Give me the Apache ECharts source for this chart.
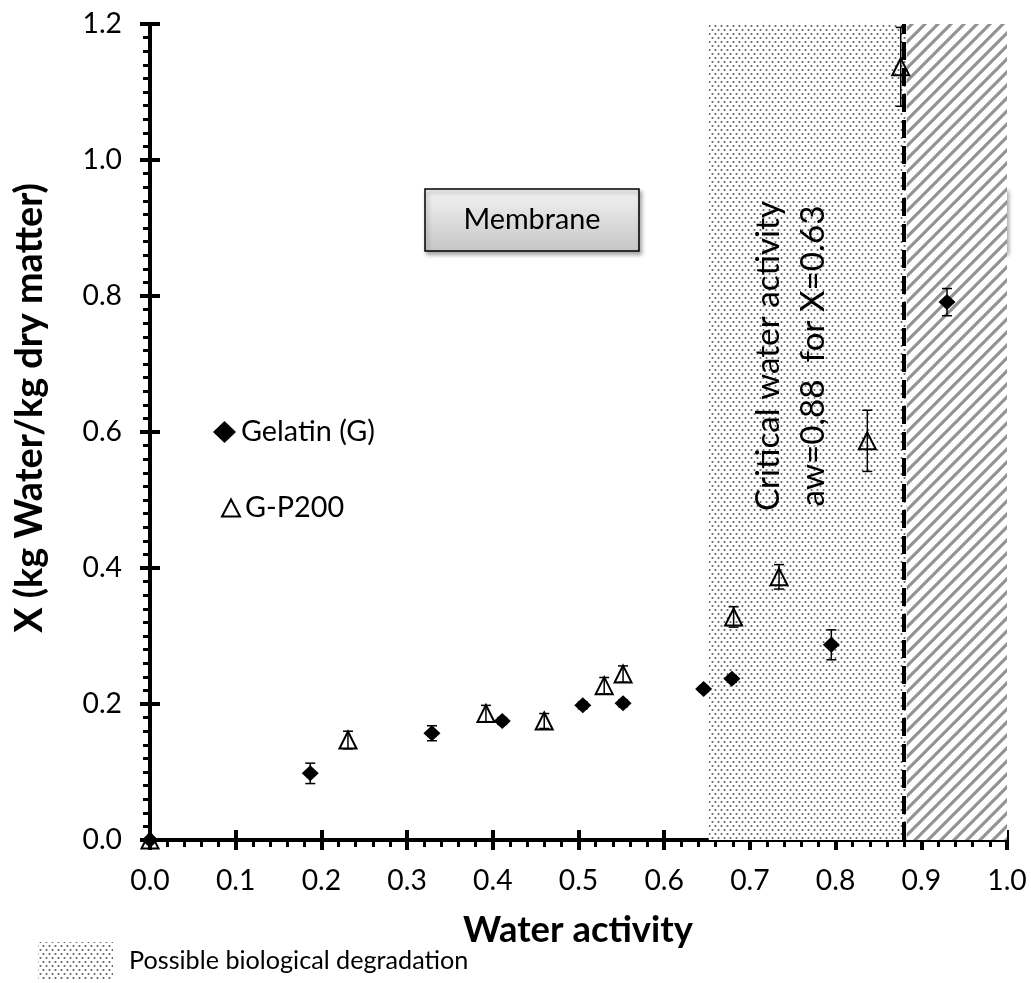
<!DOCTYPE html>
<html>
<head>
<meta charset="utf-8">
<title>Water activity vs X</title>
<script src="https://cdn.jsdelivr.net/npm/echarts@6.0.0/dist/echarts.min.js"></script>
<style>
html,body{margin:0;padding:0;background:#fff;}
#chart{width:1031px;height:983px;}
</style>
</head>
<body>
<div id="chart"></div>
<script>
// ---------------- data ----------------
const gelatinX   = [0, 0.187, 0.329, 0.411, 0.505, 0.552, 0.646, 0.679, 0.795, 0.930];
const gelatinY   = [0, 0.098, 0.157, 0.175, 0.198, 0.201, 0.222, 0.237, 0.287, 0.791];
const gelatinErr = [0, 0.015, 0.011, 0.005, 0.005, 0.005, 0.004, 0.005, 0.022, 0.020];

const gp200X   = [0, 0.231, 0.392, 0.460, 0.530, 0.552, 0.681, 0.734, 0.837, 0.876];
const gp200Y   = [0, 0.147, 0.186, 0.175, 0.227, 0.244, 0.328, 0.387, 0.587, 1.137];
const gp200Err = [0, 0.013, 0.012, 0.011, 0.012, 0.012, 0.015, 0.018, 0.045, 0.058];

const zoneStart = [0.652, 0.883];
const zoneEnd   = [0.883, 1.0];
const criticalAw = 0.883;

const xTickLabels = ['0.0','0.1','0.2','0.3','0.4','0.5','0.6','0.7','0.8','0.9','1.0'];
const yTickLabels = ['0.0','0.2','0.4','0.6','0.8','1.0','1.2'];
const seriesNames = ['Gelatin (G)', 'G-P200'];

// ---------------- helpers ----------------
const FONT = 'Lato';
const measureCtx = document.createElement('canvas').getContext('2d');
function fit(text, width, weight) {
  measureCtx.font = (weight || 'normal') + ' 100px ' + FONT;
  return Math.round(100 * width / measureCtx.measureText(text).width * 10) / 10;
}
const tickSize   = fit('0.0', 39.5);
const legendSize = fit('Gelatin (G)', 134);
const boxSize    = fit('Membrane', 137);
const titleSize  = fit('Water activity', 230, 'bold');
const yTitleSize = fit('X (kg Water/kg dry matter)', 450, 'bold');
const rotSize    = fit('Critical water activity', 310);
const noteSize   = fit('Possible biological degradation', 340);

function dotCanvas() {
  const c = document.createElement('canvas');
  c.width = 6; c.height = 8;
  const g = c.getContext('2d');
  g.fillStyle = '#fff'; g.fillRect(0, 0, 6, 8);
  g.fillStyle = '#5e5e5e';
  [[1.5, 2], [4.5, 6]].forEach(function (p) {
    g.beginPath(); g.arc(p[0], p[1], 1.05, 0, Math.PI * 2); g.fill();
  });
  return c;
}
function hatchCanvas() {
  const s = 13;
  const c = document.createElement('canvas');
  c.width = s; c.height = s;
  const g = c.getContext('2d');
  g.fillStyle = '#fff'; g.fillRect(0, 0, s, s);
  g.strokeStyle = '#939393'; g.lineWidth = 3.1;
  g.beginPath();
  [-s, 0, s].forEach(function (k) {
    g.moveTo(k - 2, s + 2); g.lineTo(k + s + 2, -2);
  });
  g.stroke();
  return c;
}
const dotFill = { image: dotCanvas(), repeat: 'repeat' };
const hatchFill = { image: hatchCanvas(), repeat: 'repeat' };

function errRender(params, api) {
  const x = api.value(0), y = api.value(1), e = api.value(2);
  if (!e) return null;
  const t = api.coord([x, y + e]), b = api.coord([x, y - e]);
  const hw = 5;
  const st = { stroke: '#000', lineWidth: 1.5 };
  return { type: 'group', children: [
    { type: 'line', shape: { x1: t[0], y1: t[1], x2: b[0], y2: b[1] }, style: st },
    { type: 'line', shape: { x1: t[0] - hw, y1: t[1], x2: t[0] + hw, y2: t[1] }, style: st },
    { type: 'line', shape: { x1: b[0] - hw, y1: b[1], x2: b[0] + hw, y2: b[1] }, style: st }
  ]};
}

function box(x, y, w, h, text) {
  return { type: 'group', x: x, y: y, children: [
    { type: 'rect', shape: { x: 0, y: 0, width: w, height: h },
      style: { fill: { type: 'linear', x: 0, y: 0, x2: 0, y2: 1,
                       colorStops: [{ offset: 0, color: '#f4f4f4' }, { offset: 1, color: '#c6c6c6' }] },
               stroke: '#000', lineWidth: 1.5,
               shadowBlur: 4, shadowOffsetX: 2, shadowOffsetY: 3, shadowColor: 'rgba(0,0,0,0.35)' } },
    { type: 'text', x: w / 2, y: h / 2,
      style: { text: text, fontFamily: FONT, fontSize: boxSize, fill: '#000',
               textAlign: 'center', textVerticalAlign: 'middle', align: 'center', verticalAlign: 'middle' } }
  ]};
}
function label(x, y, text, size, opts) {
  opts = opts || {};
  return { type: 'text', x: x, y: y, rotation: opts.rot || 0, z: 10,
    style: { text: text, fontFamily: FONT, fontSize: size, fontWeight: opts.bold ? 'bold' : 'normal',
             fill: '#000', textAlign: opts.align || 'center', align: opts.align || 'center',
             textVerticalAlign: 'middle', verticalAlign: 'middle' } };
}

// ---------------- chart ----------------
const chart = echarts.init(document.getElementById('chart'), null, { renderer: 'canvas' });

function xAxisDef(inside) {
  return {
    type: 'value', min: 0, max: 1, interval: 0.1, position: 'bottom',
    axisLine: { show: !inside, onZero: false, lineStyle: { color: '#000', width: 4 } },
    axisTick: { show: true, inside: inside, length: 10, lineStyle: { color: '#000', width: 4 } },
    minorTick: { show: !inside, splitNumber: 5, length: 7, lineStyle: { color: '#000', width: 3 } },
    splitLine: { show: false }, minorSplitLine: { show: false },
    axisLabel: { show: !inside, color: '#000', fontFamily: FONT, fontSize: tickSize, margin: 27,
                 formatter: function (v) { return xTickLabels[Math.round(v * 10)]; } }
  };
}
function yAxisDef(inside) {
  return {
    type: 'value', min: 0, max: 1.2, interval: 0.2, position: 'left',
    axisLine: { show: !inside, onZero: false, lineStyle: { color: '#000', width: 4 } },
    axisTick: { show: true, inside: inside, length: 10, lineStyle: { color: '#000', width: 4 } },
    minorTick: { show: !inside, splitNumber: 10, length: 7, lineStyle: { color: '#000', width: 3 } },
    splitLine: { show: false }, minorSplitLine: { show: false },
    axisLabel: { show: !inside, color: '#000', fontFamily: FONT, fontSize: tickSize, margin: 28,
                 formatter: function (v) { return yTickLabels[Math.round(v * 5)]; } }
  };
}

const option = {
  animation: false,
  backgroundColor: '#fff',
  grid: { left: 150, right: 24, top: 24, bottom: 143, containLabel: false, outerBoundsMode: 'none' },
  xAxis: [xAxisDef(false), xAxisDef(true)],
  yAxis: [yAxisDef(false), yAxisDef(true)],
  legend: [
    { data: [seriesNames[0]], orient: 'vertical', left: 213, top: 417, padding: 0, itemGap: 0,
      itemWidth: 23, itemHeight: 22,
      selectedMode: false, textStyle: { fontFamily: FONT, fontSize: legendSize, color: '#000', lineHeight: 30 } },
    { data: [seriesNames[1]], orient: 'vertical', left: 221, top: 493, padding: 0, itemGap: 0,
      itemWidth: 18, itemHeight: 17,
      selectedMode: false, textStyle: { fontFamily: FONT, fontSize: legendSize, color: '#000', lineHeight: 30 } }
  ],
  series: [
    { type: 'custom', name: 'zones', z: 1, silent: true,
      data: zoneStart.map(function (s, i) { return [s, zoneEnd[i], i]; }),
      encode: { x: [0, 1] },
      renderItem: function (params, api) {
        const p0 = api.coord([api.value(0), 1.2]);
        const p1 = api.coord([api.value(1), 0]);
        return { type: 'rect', shape: { x: p0[0], y: p0[1], width: p1[0] - p0[0], height: p1[1] - p0[1] },
                 style: { fill: api.value(2) === 0 ? dotFill : hatchFill } };
      } },
    { type: 'custom', name: 'errG', z: 3, silent: true,
      data: gelatinX.map(function (x, i) { return [x, gelatinY[i], gelatinErr[i]]; }),
      encode: { x: 0, y: 1 }, renderItem: errRender },
    { type: 'custom', name: 'errP', z: 3, silent: true,
      data: gp200X.map(function (x, i) { return [x, gp200Y[i], gp200Err[i]]; }),
      encode: { x: 0, y: 1 }, renderItem: errRender },
    { type: 'scatter', name: seriesNames[0], z: 4,
      symbol: 'diamond', symbolSize: [17, 16],
      itemStyle: { color: '#000', opacity: 1 },
      data: gelatinX.map(function (x, i) { return [x, gelatinY[i]]; }),
      markLine: { silent: true, symbol: ['none', 'none'], label: { show: false },
                  lineStyle: { color: '#000', width: 4, type: [18, 8] },
                  data: [{ xAxis: criticalAw }] } },
    { type: 'scatter', name: seriesNames[1], z: 4,
      symbol: 'triangle', symbolSize: 17,
      itemStyle: { color: 'rgba(0,0,0,0)', borderColor: '#000', borderWidth: 2, opacity: 1 },
      data: gp200X.map(function (x, i) { return [x, gp200Y[i]]; }) }
  ],
  graphic: [
    box(425, 189, 214, 62, 'Membrane'),
    box(912, 189, 94, 62, 'Gel'),
    label(768, 356, 'Critical water activity', rotSize, { rot: Math.PI / 2 }),
    label(813, 356, 'aw=0,88  for X=0.63', rotSize, { rot: Math.PI / 2 }),
    label(578, 930, 'Water activity', titleSize, { bold: true }),
    label(30, 408, 'X (kg Water/kg dry matter)', yTitleSize, { bold: true, rot: Math.PI / 2 }),
    { type: 'rect', shape: { x: 38, y: 942, width: 75, height: 38 }, style: { fill: dotFill } },
    label(129, 961, 'Possible biological degradation', noteSize, { align: 'left' })
  ]
};
chart.setOption(option);
</script>
</body>
</html>
